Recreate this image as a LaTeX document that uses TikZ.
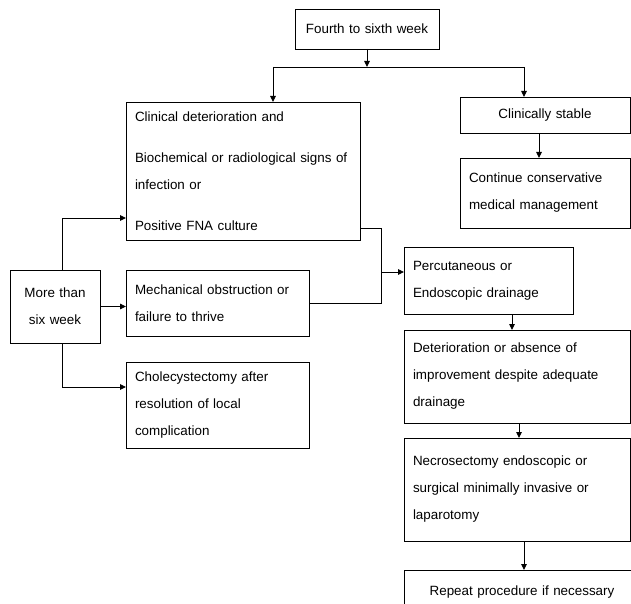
\documentclass[tikz,border=0pt]{standalone}
\usepackage{fontspec}
\setmainfont[WordSpace=1.9]{Liberation Sans}
\usetikzlibrary{arrows.meta}

\begin{document}
\begin{tikzpicture}[x=1pt, y=-1pt, >={Triangle[length=6pt, width=5.5pt]},
box/.style={draw, line width=.9pt, anchor=north west, inner xsep=9pt, inner ysep=0pt, outer sep=0pt, align=left, font=\fontsize{13.4}{27}\selectfont},
link/.style={line width=.9pt},
]

%%%%%%%%% SIZE OF THE PICTURE %%%%%%%%%
\useasboundingbox (0,0) rectangle (631,604);
\clip (0,0) rectangle (631,604);

%%%%%%%%% BOXES %%%%%%%%%
\node[box, align=center, text width=126pt, minimum height=40pt] (FourthWeek) at (295,9) {Fourth to sixth week};
\node[box, text width=216pt, minimum height=138pt] (Deterioration) at (126,102) {Clinical deterioration and\\[14pt]
Biochemical or radiological signs of\\ infection or\\[14pt] Positive FNA culture};
\node[box, align=center, text width=152pt, minimum height=36pt] (Stable) at (460,97) {Clinically stable};
\node[box, text width=152pt, minimum height=70pt] (Conservative) at (460,158) {Continue conservative\\ medical management};
\node[box, text width=151pt, minimum height=67pt] (Drainage) at (404,247) {Percutaneous or\\ Endoscopic drainage};
\node[box, align=center, text width=72pt, minimum height=73pt] (SixWeek) at (10,270) {More than\\ six week};
\node[box, text width=165pt, minimum height=66pt] (Obstruction) at (126,270) {Mechanical obstruction or\\ failure to thrive};
\node[box, text width=165pt, minimum height=86pt] (Cholecystectomy) at (126,362) {Cholecystectomy after\\ resolution of local\\ complication};
\node[box, text width=208pt, minimum height=93pt] (NoImprovement) at (404,330) {Deterioration or absence of\\ improvement despite adequate\\ drainage};
\node[box, text width=208pt, minimum height=103pt] (Necrosectomy) at (404,438) {Necrosectomy endoscopic or\\ surgical minimally invasive or\\ laparotomy};
\node[box, align=center, text width=218pt, minimum height=44pt] (Repeat) at (404,570) {Repeat procedure if necessary};

%%%%%%%%% CONNECTORS %%%%%%%%%
\coordinate (SplitL) at (273,67);
\coordinate (SplitR) at (524,67);
\coordinate (Join) at (381,272);
\draw[link,->] (FourthWeek.south) -- (FourthWeek.south |- SplitL);
\draw[link] (SplitL) -- (SplitR);
\draw[link,->] (SplitL) -- (SplitL |- Deterioration.north);
\draw[link,->] (SplitR) -- (SplitR |- Stable.north);
\draw[link,->] ([xshift=-6pt]Stable.south) -- ([xshift=-6pt]Conservative.north);
\draw[link,->] ([yshift=-57pt]Deterioration.east) -| (Join) -- (Join -| Drainage.west);
\draw[link] (Obstruction.east) -| (Join);
\draw[link,->] ([xshift=7pt]SixWeek.north) |- ([yshift=-47pt]Deterioration.west);
\draw[link,->] (SixWeek.east) -- (SixWeek.east -| Obstruction.west);
\draw[link,->] ([xshift=7pt]SixWeek.south) |- ([yshift=18pt]Cholecystectomy.west);
\draw[link,->] ([xshift=23.5pt]Drainage.south) -- ([xshift=-5pt]NoImprovement.north);
\draw[link,->] ([xshift=2pt]NoImprovement.south) -- ([xshift=2pt]Necrosectomy.north);
\draw[link,->] ([xshift=7pt]Necrosectomy.south) -- ([xshift=2pt]Repeat.north);
\end{tikzpicture}
\end{document}
